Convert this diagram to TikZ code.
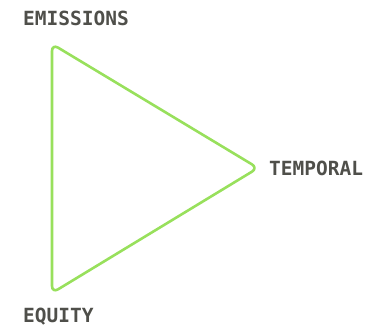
\documentclass[tikz,border=0pt]{standalone}
\usepackage{fontspec}
\setmonofont{DejaVu Sans Mono}
\definecolor{tri}{HTML}{98E05C}
\definecolor{lab}{HTML}{4F4F4A}
\tikzset{lbl/.style={font=\ttfamily\bfseries\fontsize{19.5}{22}\selectfont, text=lab, inner sep=0pt, anchor=base west}}
\begin{document}
\begin{tikzpicture}[x=1pt,y=1pt]
\useasboundingbox (0,0) rectangle (374,326);
\coordinate (a) at (52,282);
\coordinate (b) at (258,158);
\coordinate (c) at (52,33);
\draw[tri, line width=2.6pt, rounded corners=7pt, line join=round] (a) -- (b) -- (c) -- cycle;
\node[lbl] (em) at (23,300) {EMISSIONS};
\node[lbl] (te) at (269,150) {TEMPORAL};
\node[lbl] (eq) at (23,4) {EQUITY};
\end{tikzpicture}
\end{document}
